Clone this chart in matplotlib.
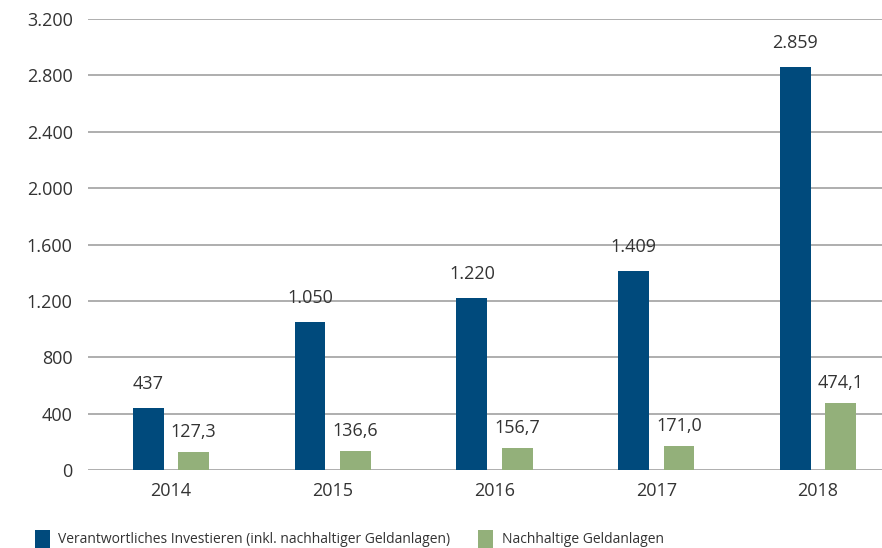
import matplotlib
matplotlib.use("Agg")
import matplotlib.pyplot as plt
from matplotlib.patches import Patch

years = ["2014", "2015", "2016", "2017", "2018"]
responsible = [437, 1050, 1220, 1409, 2859]
sustainable = [127.3, 136.6, 156.7, 171.0, 474.1]
series_names = ["Verantwortliches Investieren (inkl. nachhaltiger Geldanlagen)",
                "Nachhaltige Geldanlagen"]
yticks = [0, 400, 800, 1200, 1600, 2000, 2400, 2800, 3200]

plt.rcParams["font.family"] = ["Open Sans", "DejaVu Sans"]

BLUE = "#004a7c"
GREEN = "#93b07a"
TXT = "#333333"
GRID = "#a8a8a8"

def de_int(v):
    return f"{int(round(v)):,}".replace(",", ".")

def de_dec(v):
    return f"{v:.1f}".replace(".", ",")

fig = plt.figure(figsize=(8.82, 5.48), dpi=100)
ax = fig.add_axes([88/882, 1-470/548, 1-88/882, (470-19)/548])

x = list(range(len(years)))
w = 0.19
off = 0.14
ax.bar([i - off for i in x], responsible, width=w, color=BLUE, zorder=3)
ax.bar([i + off for i in x], sustainable, width=w, color=GREEN, zorder=3)

for i, v in enumerate(responsible):
    ax.annotate(de_int(v), (i - off, v), xytext=(0, 11), textcoords="offset points",
                ha="center", va="bottom", fontsize=13, color=TXT)
for i, v in enumerate(sustainable):
    ax.annotate(de_dec(v), (i + off, v), xytext=(0, 8), textcoords="offset points",
                ha="center", va="bottom", fontsize=13, color=TXT)

ax.set_ylim(0, 3200)
ax.set_xlim((88-171)/161.75, (882-171)/161.75)
ax.set_yticks(yticks)
ax.set_yticklabels([de_int(t) for t in yticks])
ax.set_xticks(x)
ax.set_xticklabels(years)
ax.tick_params(axis="both", length=0, labelsize=13, labelcolor=TXT)
ax.tick_params(axis="y", pad=11)
ax.tick_params(axis="x", pad=9)
ax.yaxis.grid(True, color=GRID, linewidth=1.3, zorder=0)
ax.set_axisbelow(True)
for s in ax.spines.values():
    s.set_visible(False)

handles = [Patch(facecolor=BLUE, edgecolor="none"), Patch(facecolor=GREEN, edgecolor="none")]
fig.legend(handles, series_names, loc="lower left", bbox_to_anchor=(22/882, -0.022),
           ncol=2, frameon=False, fontsize=10, handlelength=1.1, handleheight=1.6,
           handletextpad=0.6, columnspacing=2.0, labelcolor=TXT)

fig.savefig("out.png", dpi=100)
